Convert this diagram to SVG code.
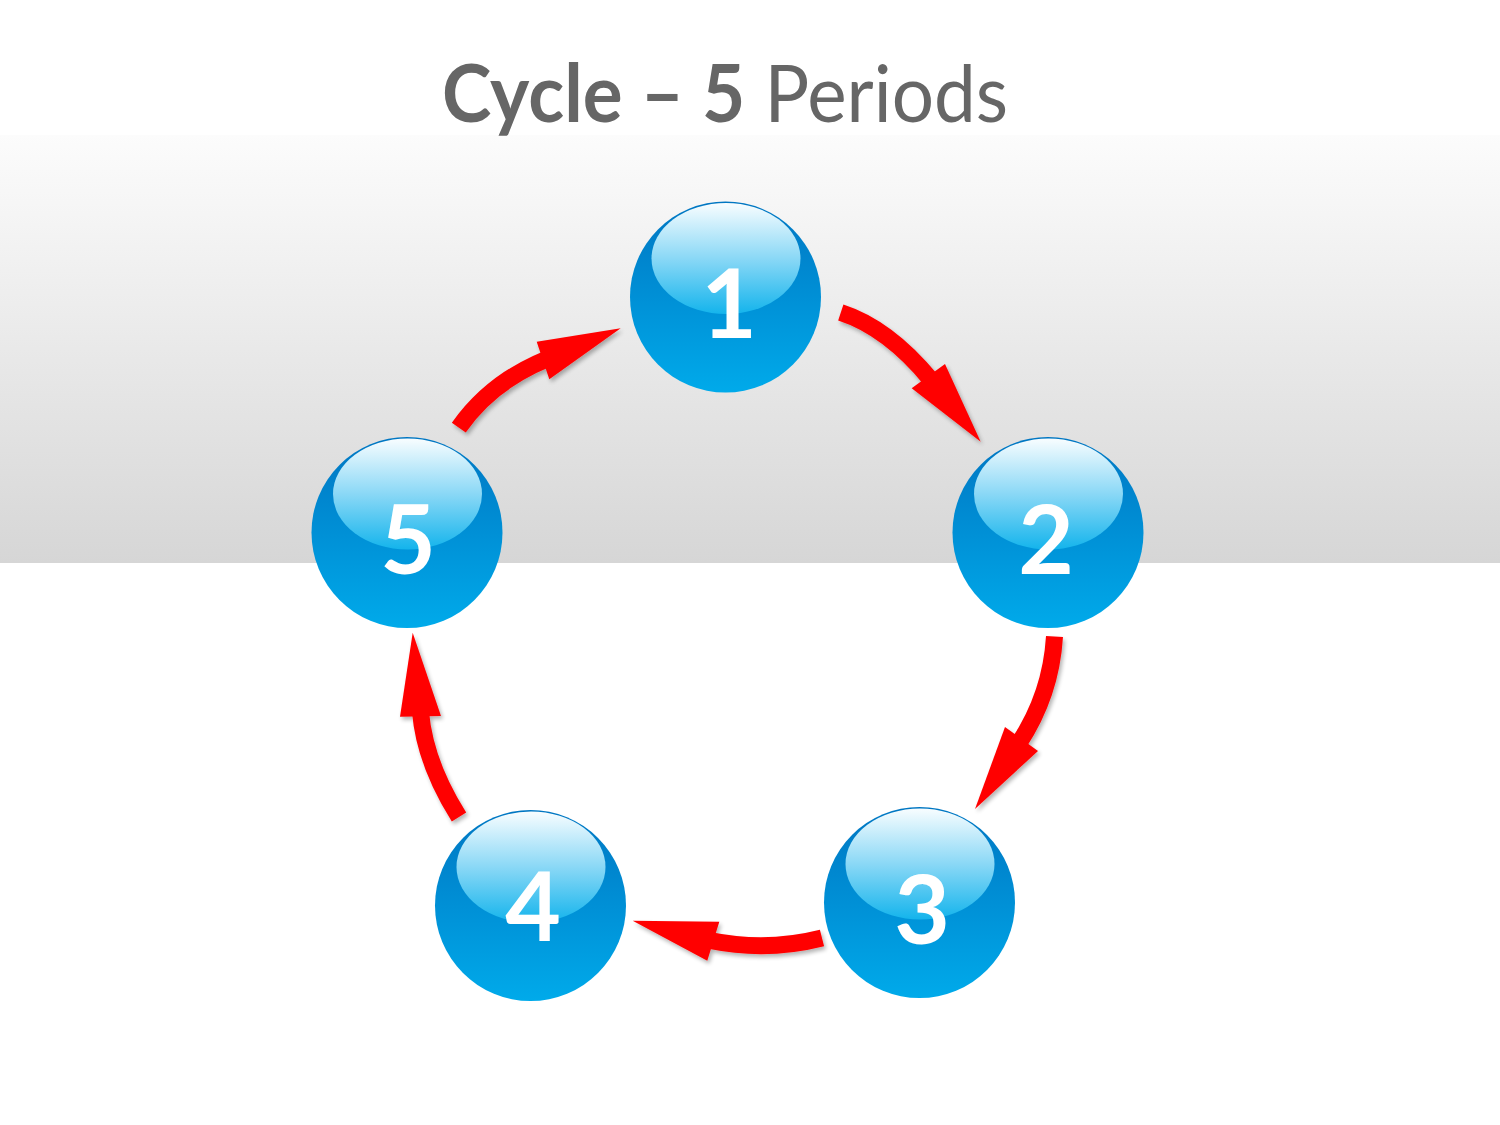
<svg xmlns="http://www.w3.org/2000/svg" width="1500" height="1125" viewBox="0 0 1500 1125">
<style>
.title{font-family:Lato,"Liberation Sans",sans-serif;font-size:80px;fill:#666666}
.num{font-family:Lato,"Liberation Sans",sans-serif;font-weight:bold;font-size:96px;fill:#ffffff;text-anchor:middle}
.shaft{fill:none;stroke:#ff0000;stroke-width:17;stroke-linecap:butt}
.head{fill:#ff0000}
</style>
<defs>
<linearGradient id="bg" x1="0" y1="0" x2="0" y2="1">
<stop offset="0" stop-color="#fcfcfc"/>
<stop offset="1" stop-color="#d6d6d6"/>
</linearGradient>
<linearGradient id="ball" x1="0" y1="0" x2="0" y2="1">
<stop offset="0" stop-color="#0076c2"/>
<stop offset="0.35" stop-color="#0088d0"/>
<stop offset="1" stop-color="#00aaea"/>
</linearGradient>
<linearGradient id="hl" x1="0" y1="0" x2="0" y2="1">
<stop offset="0" stop-color="#f8fdff"/>
<stop offset="0.5" stop-color="#8ad8f6"/>
<stop offset="1" stop-color="#14b4ec"/>
</linearGradient>
<filter id="sh" x="-20%" y="-20%" width="140%" height="140%">
<feGaussianBlur in="SourceAlpha" stdDeviation="2"/>
<feOffset dx="2" dy="3" result="b"/>
<feComponentTransfer><feFuncA type="linear" slope="0.3"/></feComponentTransfer>
<feMerge><feMergeNode/><feMergeNode in="SourceGraphic"/></feMerge>
</filter>
<g id="sphere">
<circle cx="0" cy="0" r="95.5" fill="url(#ball)"/>
<ellipse cx="0.5" cy="-38.5" rx="74.5" ry="55.5" fill="url(#hl)"/>
</g>
</defs>
<rect x="0" y="0" width="1500" height="1125" fill="#ffffff"/>
<rect x="0" y="135" width="1500" height="428" fill="url(#bg)"/>
<text class="title" x="442" y="122" textLength="566" lengthAdjust="spacingAndGlyphs"><tspan font-weight="bold">Cycle – 5</tspan> Periods</text>
<g id="connectors" filter="url(#sh)">
<g id="arrow-1-2">
<path class="shaft" d="M840.8,312.5 Q888.2,327.9 931,380"/>
<polygon class="head" points="911.7,388.3 945,364 980.7,441.7"/>
</g>
<g id="arrow-2-3">
<path class="shaft" d="M1054.5,636.5 Q1051,694.5 1019,743"/>
<polygon class="head" points="1005,727 1038,751 975,809"/>
</g>
<g id="arrow-3-4">
<path class="shaft" d="M822,938 Q767,952 710,940.5"/>
<polygon class="head" points="719.3,921.7 707.3,960.7 632.7,920.7"/>
</g>
<g id="arrow-4-5">
<path class="shaft" d="M459,817 Q424.9,762.9 420.5,712"/>
<polygon class="head" points="400,716.7 441,716 412.7,632.7"/>
</g>
<g id="arrow-5-1">
<path class="shaft" d="M458.8,427.7 Q490.6,382.2 547,359"/>
<polygon class="head" points="536.7,341.7 549.3,379.3 620.7,328.3"/>
</g>
</g>
<g id="node-1"><use href="#sphere" x="725.5" y="297"/><text class="num" x="729" y="338">1</text></g>
<g id="node-2"><use href="#sphere" x="1048" y="532.5"/><text class="num" x="1046" y="573.5">2</text></g>
<g id="node-3"><use href="#sphere" x="919.5" y="902.5"/><text class="num" x="922" y="943.5">3</text></g>
<g id="node-4"><use href="#sphere" x="530.5" y="905.5"/><text class="num" x="533" y="941">4</text></g>
<g id="node-5"><use href="#sphere" x="407" y="532.5"/><text class="num" x="408" y="573.5">5</text></g>
</svg>
